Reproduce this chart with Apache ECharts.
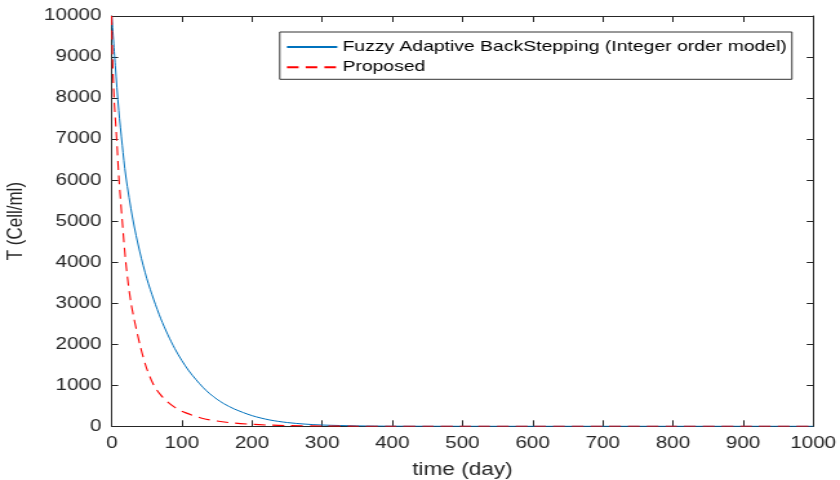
<!DOCTYPE html>
<html>
<head>
<meta charset="utf-8">
<script src="https://cdn.jsdelivr.net/npm/echarts@6/dist/echarts.min.js"></script>
<style>
html, body { margin: 0; padding: 0; background: #fff; overflow: hidden; }
/* the reference is stretched sideways, so draw narrower and stretch the same way */
#chart { width: 651px; height: 480px; transform: scaleX(1.2903); transform-origin: 0 0; }
</style>
</head>
<body>
<div id="chart"></div>
<script>
// time (day) / T (Cell/ml)
var tBlue = [0, 5, 10, 15, 20, 30, 40, 50, 60, 70, 80, 90, 100, 110, 120, 130, 140, 150, 160, 175, 200, 225, 250, 275, 300, 350, 400, 450, 500, 600, 700, 800, 900, 1000];
var vBlue = [10000, 8800, 7700, 6850, 6100, 5050, 4250, 3600, 3080, 2620, 2230, 1890, 1600, 1350, 1140, 950, 790, 660, 550, 420, 260, 155, 92, 54, 31, 10, 3, 1, 0, 0, 0, 0, 0, 0];

var tRed = [0, 1, 3.3, 7, 10.4, 15, 20, 27.5, 40, 50, 60, 70, 80, 90, 100, 115, 130, 150, 175, 200, 225, 250, 300, 350, 400, 450, 500, 600, 700, 800, 900, 1000];
var vRed = [10000, 9000, 8000, 7000, 6000, 5000, 4000, 3000, 2000, 1400, 1000, 760, 590, 460, 365, 270, 190, 128, 78, 48, 30, 18, 7, 3, 1.5, 0.5, 0, 0, 0, 0, 0, 0];

var names = ['Fuzzy Adaptive BackStepping (Integer order model)', 'Proposed'];

function pairs(ts, vs) {
    var out = [];
    for (var i = 0; i < ts.length; ++i) out.push([ts[i], vs[i]]);
    return out;
}
function plain(v) { return String(v); }

var ink = '#262626';
var chart = echarts.init(document.getElementById('chart'));
var option = {
    animation: false,
    backgroundColor: '#fff',
    textStyle: { fontFamily: 'Liberation Sans, Arial, sans-serif' },
    grid: { left: 86.6, right: 20.8, top: 16, bottom: 53.7, outerBoundsMode: 'none' },
    legend: {
        data: names,
        orient: 'vertical',
        left: 216.8,
        top: 32,
        padding: [7.5, 4, 4.5, 4.6],
        itemWidth: 39,
        itemHeight: 14,
        itemGap: 5.3,
        backgroundColor: '#fff',
        borderColor: '#333',
        borderWidth: 1,
        borderRadius: 0,
        itemStyle: { opacity: 0, borderWidth: 0 },
        textStyle: { fontSize: 15, color: '#000', padding: [0, 0, 0, -1] }
    },
    xAxis: [
        {
            type: 'value', min: 0, max: 1000, interval: 100,
            name: 'time (day)', nameLocation: 'middle', nameGap: 35,
            nameTextStyle: { fontSize: 17.5, color: ink },
            axisLine: { onZero: false, lineStyle: { color: ink, width: 1 } },
            axisTick: { inside: true, length: 6, lineStyle: { color: ink } },
            axisLabel: { fontSize: 16, color: ink, margin: 9, formatter: plain },
            splitLine: { show: false }
        },
        {
            type: 'value', position: 'top', min: 0, max: 1000, interval: 100,
            axisLine: { onZero: false, lineStyle: { color: ink, width: 1 } },
            axisTick: { inside: true, length: 6, lineStyle: { color: ink } },
            axisLabel: { show: false },
            splitLine: { show: false }
        }
    ],
    yAxis: [
        {
            type: 'value', min: 0, max: 10000, interval: 1000,
            name: 'T (Cell/ml)', nameLocation: 'middle', nameGap: 66,
            nameTextStyle: { fontSize: 17, color: ink },
            axisLine: { show: true, onZero: false, lineStyle: { color: ink, width: 1 } },
            axisTick: { show: true, inside: true, length: 5, lineStyle: { color: ink } },
            axisLabel: { fontSize: 16, color: ink, margin: 8, formatter: plain },
            splitLine: { show: false }
        },
        {
            type: 'value', position: 'right', min: 0, max: 10000, interval: 1000,
            axisLine: { show: true, onZero: false, lineStyle: { color: ink, width: 1 } },
            axisTick: { show: true, inside: true, length: 5, lineStyle: { color: ink } },
            axisLabel: { show: false },
            splitLine: { show: false }
        }
    ],
    series: [
        {
            name: names[0], type: 'line', symbol: 'none',
            smooth: 0.3,
            data: pairs(tBlue, vBlue),
            itemStyle: { color: '#0072BD' },
            lineStyle: { color: '#0072BD', width: 1 }
        },
        {
            name: names[1], type: 'line', symbol: 'none',
            smooth: 0.3,
            data: pairs(tRed, vRed),
            itemStyle: { color: '#FF0000' },
            lineStyle: { color: '#FF0000', width: 1.1, type: [9, 5.5] }
        }
    ]
};
chart.setOption(option);
</script>
</body>
</html>
